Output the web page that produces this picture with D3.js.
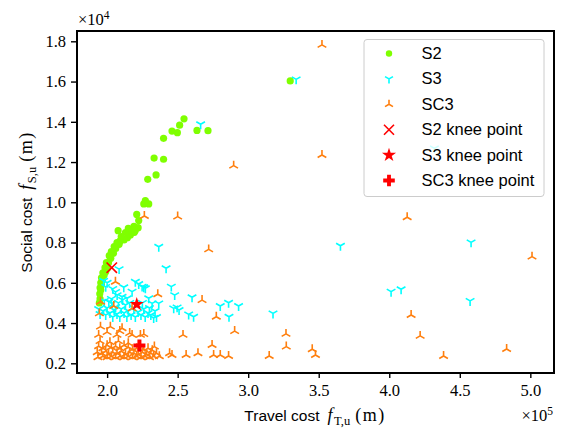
<!DOCTYPE html>
<html><head><meta charset="utf-8">
<script src="https://cdn.jsdelivr.net/npm/d3@7/dist/d3.min.js"></script>
<style>body{margin:0;background:#fff}</style>
</head><body>
<svg id="c" width="561" height="428"></svg>
<script>
// values: travel cost in units of 1e5 m, social cost in units of 1e4 m
const xTicks = [2.0, 2.5, 3.0, 3.5, 4.0, 4.5, 5.0];
const yTicks = [0.2, 0.4, 0.6, 0.8, 1.0, 1.2, 1.4, 1.6, 1.8];
const seriesNames = ["S2", "S3", "SC3", "S2 knee point", "S3 knee point", "SC3 knee point"];

const S2 = [[2.545,1.415],[2.514,1.383],[2.46,1.354],[2.498,1.346],[2.637,1.357],[2.715,1.356],[2.40,1.318],[2.333,1.22],[2.40,1.214],[2.347,1.136],[2.288,1.114],[2.271,1.008],[2.26,0.992],[2.295,0.992],[2.21,0.94],[2.224,0.909],[2.22,0.874],[2.193,0.851],[2.165,0.838],[2.167,0.862],[2.144,0.824],[2.12,0.813],[2.092,0.808],[2.078,0.859],[2.085,0.791],[2.061,0.771],[2.045,0.747],[2.026,0.722],[2.01,0.70],[2.002,0.672],[1.99,0.655],[1.979,0.639],[1.967,0.614],[1.96,0.589],[1.955,0.564],[1.95,0.52],[1.945,0.50],[3.298,1.603],
[2.19,0.88],[2.15,0.87],[2.13,0.85],[2.10,0.83],[2.07,0.80],[2.05,0.78],[2.03,0.755],[2.015,0.735],[1.995,0.70],[1.985,0.675],[1.97,0.65],[1.96,0.625],[1.955,0.60],[1.95,0.575],[1.948,0.545],[2.20,0.86]];

const S3 = [[3.34,1.611],[2.663,1.388],[4.32,1.268],[3.654,0.784],[4.58,0.801],[4.013,0.556],[4.084,0.568],[4.573,0.51],[3.176,0.448],[2.366,0.779],[2.418,0.672],[2.455,0.581],[2.479,0.539],[2.602,0.528],[2.496,0.478],[2.51,0.465],[2.578,0.443],[2.613,0.431],[2.802,0.485],[2.861,0.501],[2.932,0.485],[2.864,0.431],
[2.085,0.668],[2.20,0.605],[2.248,0.581],[2.271,0.573],[2.224,0.594],[2.26,0.578],[2.118,0.578],[2.177,0.556],[2.071,0.539],[2.106,0.531],[2.142,0.523],[2.295,0.523],[2.319,0.498],[2.366,0.498],[2.012,0.506],[2.035,0.498],[2.472,0.473],
[1.975,0.61],[2.0,0.60],[1.99,0.58],[2.04,0.57],[2.06,0.555],
[1.94,0.47],[1.95,0.445],[1.97,0.46],[1.99,0.44],[2.0,0.475],[2.02,0.45],[2.04,0.43],[2.05,0.465],[2.07,0.445],[2.09,0.43],[2.10,0.47],[2.12,0.45],[2.14,0.43],[2.15,0.46],[2.17,0.44],[2.19,0.475],[2.20,0.43],[2.22,0.455],[2.24,0.44],[2.26,0.47],[2.27,0.43],[2.29,0.45],[2.31,0.44],[2.33,0.425],[2.35,0.43],[2.30,0.475],[2.13,0.49],[2.08,0.50],[1.98,0.51],[2.06,0.48],[2.16,0.50],[2.25,0.50],[2.34,0.46],[2.03,0.52],[2.11,0.515]];

const SC3 = [[3.523,1.782],[3.523,1.235],[4.127,0.926],[2.897,1.182],[2.264,0.932],[2.50,0.929],[2.72,0.766],[5.012,0.73],[4.155,0.44],[4.219,0.336],[3.268,0.346],[3.27,0.283],[3.454,0.27],[3.477,0.241],[4.385,0.236],[4.832,0.271],[2.673,0.514],[2.359,0.543],[2.774,0.431],[2.904,0.36],[2.538,0.341],[2.744,0.291],[2.443,0.25],[2.46,0.241],[2.56,0.241],[2.644,0.25],[2.755,0.241],[2.802,0.241],[2.861,0.236],[3.149,0.236],[2.059,0.605],[1.953,0.506],[2.047,0.485],[1.945,0.448],[2.177,0.473],[1.953,0.382],[2.023,0.382],[2.106,0.374],[1.94,0.341],[2.07,0.341],[2.177,0.341],[2.236,0.341],[2.335,0.283],
[2.09,0.36],[2.0,0.355],[2.16,0.35],[2.26,0.345],
[1.95,0.31],[2.02,0.305],[2.08,0.31],[2.15,0.30],
[1.94,0.285],[1.97,0.275],[2.0,0.29],[2.03,0.28],[2.06,0.285],[2.09,0.275],[2.12,0.29],[2.15,0.28],[2.18,0.27],[2.21,0.275],[2.26,0.27],[2.29,0.275],[2.32,0.265],
[1.93,0.255],[1.96,0.25],[1.99,0.26],[2.01,0.245],[2.04,0.255],[2.07,0.25],[2.10,0.26],[2.13,0.245],[2.16,0.255],[2.19,0.25],[2.22,0.245],[2.25,0.255],[2.28,0.245],[2.31,0.25],[2.35,0.25],
[1.935,0.23],[1.97,0.235],[2.0,0.23],[2.03,0.235],[2.06,0.23],[2.09,0.235],[2.12,0.23],[2.15,0.235],[2.18,0.23],[2.21,0.235],[2.24,0.23],[2.27,0.235],[2.30,0.23],[2.33,0.235],[2.37,0.235]];

const kneeS2 = [2.033, 0.675];
const kneeS3 = [2.21, 0.493];
const kneeSC3 = [2.229, 0.289];

const C = {green:"#7fff00", cyan:"#00ffff", orange:"#ff7f0e", red:"#ff0000"};
const L = 77, R = 554, T = 31, B = 373;
const x = d3.scaleLinear().domain([1.7865, 5.1678]).range([L, R]);
const y = d3.scaleLinear().domain([0.1518, 1.8512]).range([B, T]);

const svg = d3.select("#c");
const serif = "'Liberation Serif', 'DejaVu Serif', serif";
const sans = "'Liberation Sans', 'DejaVu Sans', sans-serif";

function triDown(r){const a=0.866*r,b=0.5*r;return `M0,0L0,${r}M0,0L${-a},${-b}M0,0L${a},${-b}`;}
function triUp(r){const a=0.866*r,b=0.5*r;return `M0,0L0,${-r}M0,0L${-a},${b}M0,0L${a},${b}`;}
function xMark(r){return `M${-r},${-r}L${r},${r}M${-r},${r}L${r},${-r}`;}
function plusFilled(r){const w=r/3;return `M${-w},${-r}H${w}V${-w}H${r}V${w}H${w}V${r}H${-w}V${w}H${-r}V${-w}H${-w}Z`;}
const starPath = d3.symbol(d3.symbolStar, 62)();

const plot = svg.append("g");
plot.selectAll(".s2").data(S2).join("circle")
  .attr("cx", d=>x(d[0])).attr("cy", d=>y(d[1])).attr("r", 3.6).attr("fill", C.green);
plot.selectAll(".s3").data(S3).join("path").attr("class","s3")
  .attr("transform", d=>`translate(${x(d[0])},${y(d[1])})`).attr("d", triDown(5))
  .attr("stroke", C.cyan).attr("stroke-width", 1.6).attr("fill","none");
plot.selectAll(".sc3").data(SC3).join("path").attr("class","sc3")
  .attr("transform", d=>`translate(${x(d[0])},${y(d[1])})`).attr("d", triUp(5))
  .attr("stroke", C.orange).attr("stroke-width", 1.6).attr("fill","none");
plot.append("path").attr("transform", `translate(${x(kneeS2[0])},${y(kneeS2[1])})`)
  .attr("d", xMark(5.2)).attr("stroke", C.red).attr("stroke-width", 1.6).attr("fill","none");
plot.append("path").attr("transform", `translate(${x(kneeS3[0])},${y(kneeS3[1])})`)
  .attr("d", starPath).attr("fill", C.red);
plot.append("path").attr("transform", `translate(${x(kneeSC3[0])},${y(kneeSC3[1])})`)
  .attr("d", plusFilled(6)).attr("fill", C.red);

const gx = svg.append("g").attr("transform", `translate(0,${B})`)
  .call(d3.axisBottom(x).tickValues(xTicks).tickFormat(d3.format(".1f")).tickSize(5).tickPadding(6));
const gy = svg.append("g").attr("transform", `translate(${L},0)`)
  .call(d3.axisLeft(y).tickValues(yTicks).tickFormat(d3.format(".1f")).tickSize(6).tickPadding(5));
[gx, gy].forEach(g=>{
  g.select(".domain").remove();
  g.selectAll(".tick line").attr("stroke","#000").attr("stroke-width",1.4);
  g.selectAll(".tick text").attr("font-family", serif).attr("font-size", 16.5).attr("fill","#000");
});
svg.append("rect").attr("x", L).attr("y", T).attr("width", R-L).attr("height", B-T)
  .attr("fill","none").attr("stroke","#000").attr("stroke-width",2);

const o4 = svg.append("text").attr("x", 78).attr("y", 25).attr("font-family", serif).attr("font-size", 16.5);
o4.append("tspan").text("×10");
o4.append("tspan").attr("dy", -6).attr("font-size", 11.5).text("4");
const o5 = svg.append("text").attr("x", 553).attr("y", 421).attr("text-anchor","end").attr("font-family", serif).attr("font-size", 16.5);
o5.append("tspan").text("×10");
o5.append("tspan").attr("dy", -6).attr("font-size", 11.5).text("5");

function mathLabel(sel, word, sub){
  sel.append("tspan").attr("font-family", sans).attr("font-size",15.5).text(word);
  sel.append("tspan").attr("font-family", serif).attr("font-style","italic").attr("font-size",18).attr("dx",8).text("f");
  sel.append("tspan").attr("font-family", serif).attr("font-size",12.5).attr("dy",3.5).attr("dx",1.5).text(sub);
  sel.append("tspan").attr("font-family", serif).attr("font-size",18).attr("dy",-3.5).attr("dx",5).attr("letter-spacing",1.5).text("(m)");
}
const xl = svg.append("text").attr("x", 315).attr("y", 421).attr("text-anchor","middle");
mathLabel(xl, "Travel cost", "T,u");
const yl = svg.append("text").attr("transform","translate(32,202) rotate(-90)").attr("text-anchor","middle");
mathLabel(yl, "Social cost", "S,u");

const lg = svg.append("g");
lg.append("rect").attr("x",364).attr("y",39.5).attr("width",180).attr("height",157).attr("rx",3)
  .attr("fill","#fff").attr("fill-opacity",0.8).attr("stroke","#cccccc").attr("stroke-width",1);
const ly = d3.scaleLinear().domain([0,5]).range([53.5,180.5]);
seriesNames.forEach((n,i)=>{
  const g = lg.append("g").attr("transform",`translate(389,${ly(i)})`);
  if(i===0) g.append("circle").attr("r",3.2).attr("fill",C.green);
  if(i===1) g.append("path").attr("d",triDown(4.6)).attr("stroke",C.cyan).attr("stroke-width",1.6).attr("fill","none");
  if(i===2) g.append("path").attr("d",triUp(4.6)).attr("stroke",C.orange).attr("stroke-width",1.6).attr("fill","none");
  if(i===3) g.append("path").attr("d",xMark(5)).attr("stroke",C.red).attr("stroke-width",1.6).attr("fill","none");
  if(i===4) g.append("path").attr("d",starPath).attr("fill",C.red);
  if(i===5) g.append("path").attr("d",plusFilled(5.8)).attr("fill",C.red);
  lg.append("text").attr("x",421.5).attr("y",ly(i)+5.5).attr("font-family",sans).attr("font-size",16.5).text(n);
});
</script>
</body></html>
